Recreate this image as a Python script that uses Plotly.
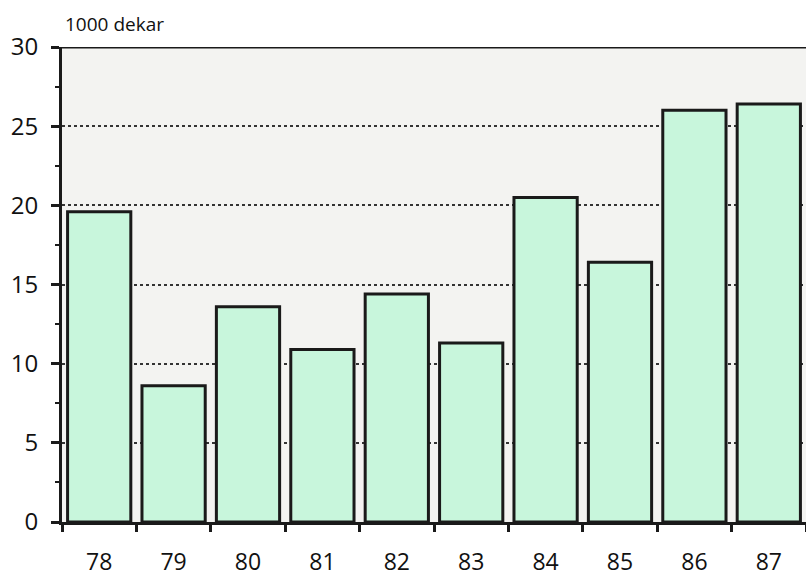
import plotly.graph_objects as go

years = ["78", "79", "80", "81", "82", "83", "84", "85", "86", "87"]
values = [19.6, 8.6, 13.6, 10.9, 14.4, 11.3, 20.5, 16.4, 26.0, 26.4]
y_ticks = [0, 5, 10, 15, 20, 25, 30]
unit_label = "1000 dekar"

fig = go.Figure()
fig.add_trace(go.Bar(
    x=years, y=values,
    marker=dict(color="#c8f6dc", line=dict(color="#1a1a1a", width=3)),
    width=0.85,
))

fig.add_shape(type="line", xref="paper", yref="y", x0=-0.012, x1=1, y0=30, y1=30,
              line=dict(color="#1a1a1a", width=3))

fig.add_annotation(text=unit_label, xref="paper", yref="paper", x=0.0, y=1.048,
                   xanchor="left", yanchor="middle", xshift=1, showarrow=False,
                   font=dict(family="Open Sans", size=19, color="#111"))

fig.update_layout(
    width=806, height=581,
    margin=dict(l=62, r=0, t=47, b=59, autoexpand=False),
    paper_bgcolor="white",
    plot_bgcolor="#f3f3f1",
    showlegend=False,
    font=dict(family="Open Sans", color="#111"),
)
fig.update_xaxes(
    type="category", range=[-0.5, 9.5], automargin=False,
    showline=True, linecolor="#1a1a1a", linewidth=3,
    ticks="outside", tickson="boundaries", ticklen=7, tickwidth=2.5, tickcolor="#1a1a1a",
    tickfont=dict(size=23), showgrid=False, ticklabelstandoff=17,
)
fig.update_yaxes(
    range=[0, 30], tickvals=y_ticks, automargin=False,
    showline=True, linecolor="#1a1a1a", linewidth=3,
    ticks="outside", ticklen=8, tickwidth=2.5, tickcolor="#1a1a1a",
    tickfont=dict(size=24), ticklabelstandoff=8,
    minor=dict(dtick=2.5, ticks="outside", ticklen=4, tickwidth=2, tickcolor="#1a1a1a", showgrid=False),
    showgrid=True, gridcolor="#333", gridwidth=1.5, griddash="dot",
    zeroline=False,
)

fig.write_html("out.html", config={"displayModeBar": False},
               post_script="document.body.style.margin='0';document.body.style.overflow='hidden';")
